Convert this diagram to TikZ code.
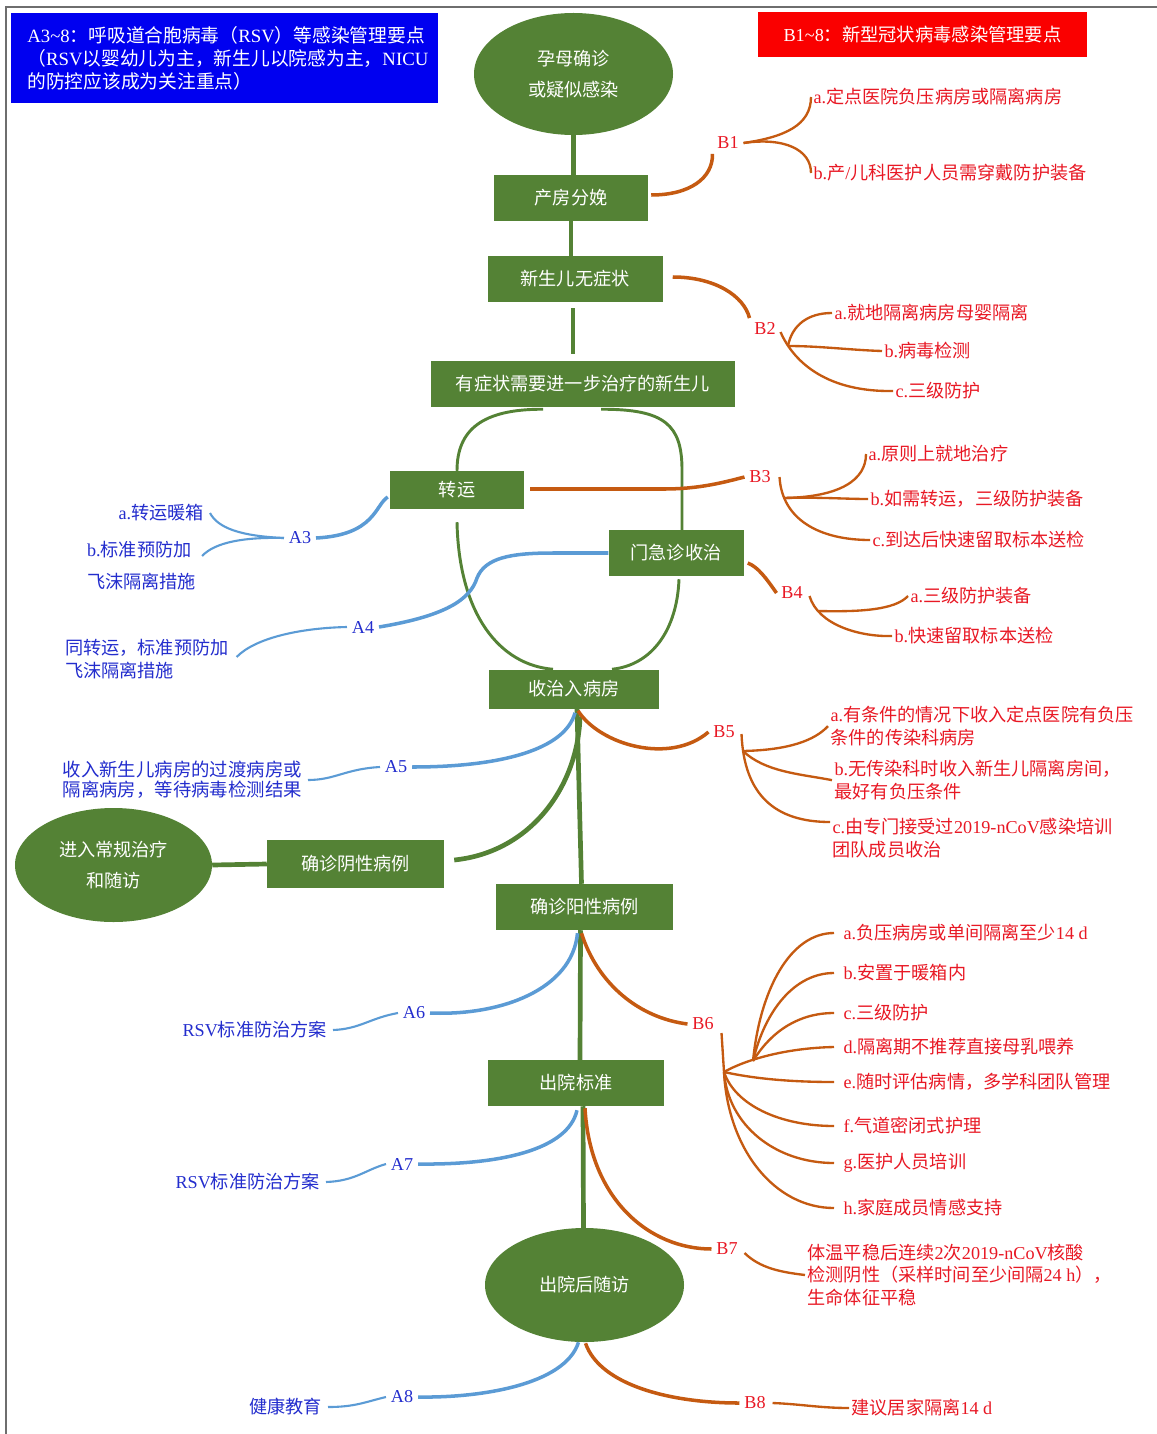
\documentclass[tikz,border=0pt]{standalone}
\usepackage{fontspec}
\setmainfont{Liberation Serif}
\newfontfamily\cjk{Noto Sans CJK SC}
\usepackage{tikz}
\usetikzlibrary{calc, shapes.geometric}
\tikzset{>=latex}
\definecolor{mygreen}{RGB}{84, 130, 53}
\definecolor{myorange}{RGB}{197, 90, 17}
\definecolor{mylightblue}{RGB}{91, 155, 213}
\definecolor{myred}{RGB}{232, 24, 36}
\definecolor{myblue}{RGB}{35, 45, 205}
\definecolor{headblue}{RGB}{0, 0, 240}
\definecolor{headred}{RGB}{250, 0, 0}
\definecolor{framegray}{RGB}{110, 110, 110}
\tikzset{
  headbox/.style = {rectangle, text = white, align = left, inner sep = 0pt, font = \fontsize{16}{19.6}\selectfont},
  gbox/.style = {rectangle, fill = mygreen, text = white, minimum width = #1, minimum height = 1.38cm, inner sep = 0pt, font = \cjk\fontsize{15.5}{19}\selectfont},
  gell/.style = {ellipse, fill = mygreen, text = white, minimum width = 5.97cm, minimum height = 3.66cm, inner sep = 0pt, align = center, font = \cjk\fontsize{15.5}{26.5}\selectfont},
  trunk/.style = {mygreen, line width = 4pt},
  loopline/.style = {mygreen, line width = 2.5pt},
  bmain/.style = {myorange, line width = 3pt},
  bbranch/.style = {myorange, line width = 2pt},
  amain/.style = {mylightblue, line width = 3pt},
  abranch/.style = {mylightblue, line width = 1.8pt},
  blabel/.style = {text = myred, inner sep = 4pt, font = \fontsize{15.5}{18}\selectfont},
  alabel/.style = {text = myblue, inner sep = 4pt, font = \fontsize{15.5}{18}\selectfont},
  btext/.style = {text = myred, anchor = west, align = left, inner sep = 2pt, font = \fontsize{15.5}{19}\selectfont},
  bsixtext/.style = {btext, inner xsep = 8pt},
  atext/.style = {text = myblue, align = left, inner ysep = 2pt, inner xsep = 5pt, font = \fontsize{15.5}{19}\selectfont},
}
\begin{document}
\begin{tikzpicture}[x = 0.03cm, y = -0.03cm]
\useasboundingbox (0,0) rectangle (1157,1434);
\draw[framegray, line width = 1.2pt] (6,1434) -- (6,7) -- (1157,7);

\node[headbox, fill = headblue, minimum width = 12.81cm, minimum height = 2.7cm] (rsvhead) at (224.5,58) {\hspace*{0.2cm}A3\textasciitilde8{\cjk ：呼吸道合胞病毒（}RSV{\cjk ）等感染管理要点}\\\hspace*{0.2cm}{\cjk （}RSV{\cjk 以婴幼儿为主，新生儿以院感为主，}NICU\\\hspace*{0.2cm}{\cjk 的防控应该成为关注重点）}};
\node[headbox, fill = headred, font = \fontsize{15.6}{18}\selectfont, minimum width = 9.87cm, minimum height = 1.35cm] (covhead) at (922.5,34.5) {B1\textasciitilde8{\cjk ：新型冠状病毒感染管理要点}};

\node[gell] (mom) at (573.5,74) {孕母确诊\\或疑似感染};
\node[gbox = 4.62cm] (deliv) at (571,198) {产房分娩};
\node[gbox = 5.25cm] (asym) at (575,279) {新生儿无症状};
\node[gbox = 9.12cm] (sym) at (583,384) {有症状需要进一步治疗的新生儿};
\node[gbox = 4.02cm, minimum height = 1.14cm] (trans) at (457,490) {转运};
\node[gbox = 4.05cm] (er) at (676,553) {门急诊收治};
\node[gbox = 5.1cm, minimum height = 1.17cm] (ward) at (574,689) {收治入病房};
\node[gell, minimum width = 5.91cm, minimum height = 3.42cm] (routine) at (113.5,865) {进入常规治疗\\和随访};
\node[gbox = 5.31cm, minimum height = 1.44cm] (neg) at (355.5,864) {确诊阴性病例};
\node[gbox = 5.31cm] (pos) at (584.5,907) {确诊阳性病例};
\node[gbox = 5.28cm] (disch) at (576,1083) {出院标准};
\node[gell, minimum height = 3.42cm] (follow) at (584.5,1285) {出院后随访};

\draw[trunk] (mom.south) -- (mom.south |- deliv.north);
\draw[trunk] (deliv.south) -- (deliv.south |- asym.north);
\draw[trunk, shorten < = 5pt, shorten > = 6pt] ($(asym.south)+(-2,0)$) -- ($(asym.south |- sym.north)+(-2,0)$);
\draw[trunk] ($(ward.south)+(3,0)$) -- ($(pos.north)+(-3,0)$);
\draw[trunk] ($(pos.south)+(-4,0)$) -- ($(disch.north)+(4,0)$);
\draw[trunk] ($(disch.south)+(7,0)$) -- ($(follow.north)+(-1,0)$);
\draw[trunk] (routine.east) -- (neg.west);
\draw[trunk] ($(ward.south)+(6,8)$) .. controls (578,785) and (532,852) .. ($(neg.east)+(10,-4)$);

\draw[loopline] ($(sym.south)+(-40,2)$) .. controls (482,409) and (457,430) .. (trans.north);
\draw[loopline] ($(sym.south)+(18,2)$) .. controls (665,409) and (682,425) .. (682,470) -- ($(er.north)+(6,0)$);
\draw[loopline] ($(trans.south)+(0,13)$) .. controls (459,615) and (500,665) .. ($(ward.north)+(-21,0)$);
\draw[loopline] ($(er.south)+(3,3)$) .. controls (677,630) and (652,665) .. ($(ward.north)+(38,0)$);

\node[blabel] (b1) at (728,143) {B1};
\node[blabel] (b2) at (765,329) {B2};
\node[blabel] (b3) at (760,477) {B3};
\node[blabel] (b4) at (792,593) {B4};
\node[blabel] (b5) at (724,732) {B5};
\node[blabel] (b6) at (703,1024) {B6};
\node[blabel] (b7) at (727,1249) {B7};
\node[blabel] (b8) at (755,1403) {B8};

\node[btext] (b1a) at (811,97) {a.{\cjk 定点医院负压病房或隔离病房}};
\node[btext] (b1b) at (811,173) {b.{\cjk 产}/{\cjk 儿科医护人员需穿戴防护装备}};
\node[btext] (b2a) at (832,313) {a.{\cjk 就地隔离病房母婴隔离}};
\node[btext] (b2b) at (882,351) {b.{\cjk 病毒检测}};
\node[btext] (b2c) at (893,391) {c.{\cjk 三级防护}};
\node[btext] (b3a) at (866,454) {a.{\cjk 原则上就地治疗}};
\node[btext] (b3b) at (868,499) {b.{\cjk 如需转运，三级防护装备}};
\node[btext] (b3c) at (870,540) {c.{\cjk 到达后快速留取标本送检}};
\node[btext] (b4a) at (908,596) {a.{\cjk 三级防护装备}};
\node[btext] (b4b) at (892,636) {b.{\cjk 快速留取标本送检}};
\node[btext, anchor = north west] (b5a) at (828,704) {a.{\cjk 有条件的情况下收入定点医院有负压}\\{\cjk 条件的传染科病房}};
\node[btext, anchor = north west] (b5b) at (832,758) {b.{\cjk 无传染科时收入新生儿隔离房间，}\\{\cjk 最好有负压条件}};
\node[btext, anchor = north west] (b5c) at (830,816) {c.{\cjk 由专门接受过}2019-nCoV{\cjk 感染培训}\\{\cjk 团队成员收治}};
\node[bsixtext] (b6a) at (834,933) {a.{\cjk 负压病房或单间隔离至少}14 d};
\node[bsixtext] (b6b) at (834,973) {b.{\cjk 安置于暖箱内}};
\node[bsixtext] (b6c) at (834,1013) {c.{\cjk 三级防护}};
\node[bsixtext] (b6d) at (834,1047) {d.{\cjk 隔离期不推荐直接母乳喂养}};
\node[bsixtext] (b6e) at (834,1082) {e.{\cjk 随时评估病情，多学科团队管理}};
\node[bsixtext] (b6f) at (834,1126) {f.{\cjk 气道密闭式护理}};
\node[bsixtext] (b6g) at (834,1163) {g.{\cjk 医护人员培训}};
\node[bsixtext] (b6h) at (834,1208) {h.{\cjk 家庭成员情感支持}};
\node[btext] (b7t) at (805,1275) {{\cjk 体温平稳后连续}2{\cjk 次}2019-nCoV{\cjk 核酸}\\{\cjk 检测阴性（采样时间至少间隔}24 h{\cjk ），}\\{\cjk 生命体征平稳}};
\node[btext] (b8t) at (849,1408) {{\cjk 建议居家隔离}14 d};

\draw[bmain] ($(deliv.east)+(3,-3)$) .. controls (690,195) and (713,178) .. (b1.south west);
\draw[bbranch] (b1.east) .. controls (785,137) and (811,125) .. (b1a.west);
\draw[bbranch] (b1.east) .. controls (785,137) and (811,150) .. (b1b.west);

\draw[bmain] ($(asym.east)+(10,-2)$) .. controls (715,277) and (744,296) .. (b2.north west);
\coordinate (b2f) at (788,346);
\draw[bbranch] ($(b2.east)+(0,3)$) .. controls (795,365) and (830,392) .. (b2c.west);
\draw[bbranch] (b2f) .. controls (792,325) and (808,313) .. (b2a.west);
\draw[bbranch] (b2f) .. controls (820,346) and (850,350) .. (b2b.west);

\draw[bmain] ($(trans.east)+(6,-1)$) -- (664,489) .. controls (700,489) and (725,482) .. (b3.west);
\coordinate (b3f) at (784,498);
\draw[bbranch] ($(b3.east)+(4,0)$) .. controls (782,520) and (820,540) .. (b3c.west);
\draw[bbranch] (b3f) .. controls (840,497) and (866,480) .. (b3a.west);
\draw[bbranch] (b3f) .. controls (820,497) and (845,499) .. (b3b.west);

\draw[bmain] ($(er.east)+(4,10)$) .. controls (758,567) and (766,578) .. (b4.west);
\coordinate (b4f) at (818,611);
\draw[bbranch] ($(b4.east)+(2,3)$) .. controls (818,625) and (860,637) .. (b4b.west);
\draw[bbranch] (b4f) .. controls (860,612) and (895,610) .. (b4a.west);

\draw[bmain] ($(ward.south)+(4,2)$) .. controls (600,745) and (670,765) .. (b5.west);
\coordinate (b5f) at (743,751);
\draw[bbranch] ($(b5.east)+(2,2)$) .. controls (744,795) and (775,822) .. ($(b5c.north west)+(0,6)$);
\draw[bbranch] (b5f) .. controls (790,750) and (815,740) .. (b5a.west);
\draw[bbranch] (b5f) .. controls (765,772) and (800,774) .. (b5b.west);

\draw[bmain] ($(pos.south)+(-3,3)$) .. controls (598,985) and (640,1018) .. (b6.west);
\coordinate (b6x) at (724,1072);
\coordinate (b6y) at (753,1061);
\draw[bbranch] ($(b6.east)+(3,9)$) -- (b6x);
\draw[bbranch] (b6x) .. controls (745,1060) and (785,1048) .. (b6d.west);
\draw[bbranch] (b6y) .. controls (760,990) and (790,933) .. (b6a.west);
\draw[bbranch] (b6y) .. controls (765,1010) and (795,973) .. (b6b.west);
\draw[bbranch] (b6y) .. controls (772,1030) and (800,1013) .. (b6c.west);
\draw[bbranch] (b6x) .. controls (760,1080) and (800,1082) .. (b6e.west);
\draw[bbranch] (b6x) .. controls (735,1105) and (780,1126) .. (b6f.west);
\draw[bbranch] (b6x) .. controls (728,1125) and (775,1163) .. (b6g.west);
\draw[bbranch] (b6x) .. controls (728,1150) and (775,1208) .. (b6h.west);

\draw[bmain] ($(disch.south)+(9,2)$) .. controls (590,1200) and (650,1249) .. (b7.west);
\draw[bbranch] ($(b7.east)+(2,4)$) .. controls (760,1268) and (780,1272) .. (b7t.west);

\draw[bmain] ($(follow.south)+(1,1)$) .. controls (600,1385) and (670,1403) .. (b8.west);
\draw[bbranch] ($(b8.east)+(2,0)$) .. controls (800,1404) and (820,1408) .. (b8t.west);

\node[alabel] (a3) at (300,538) {A3};
\node[alabel] (a4) at (363,627) {A4};
\node[alabel] (a5) at (396,767) {A5};
\node[alabel] (a6) at (414,1013) {A6};
\node[alabel] (a7) at (402,1164) {A7};
\node[alabel] (a8) at (402,1397) {A8};

\node[atext, anchor = east] (a3a) at (210,513) {a.{\cjk 转运暖箱}};
\node[atext, anchor = north west, font = \fontsize{15.5}{27}\selectfont] (a3b) at (81,539) {b.{\cjk 标准预防加}\\{\cjk 飞沫隔离措施}};
\node[atext, anchor = north west, font = \fontsize{15.5}{19.6}\selectfont] (a4t) at (59,637) {{\cjk 同转运，标准预防加}\\{\cjk 飞沫隔离措施}};
\node[atext, anchor = east, font = \fontsize{15.7}{17}\selectfont] (a5t) at (308,780) {{\cjk 收入新生儿病房的过渡病房或}\\{\cjk 隔离病房，等待病毒检测结果}};
\node[atext, anchor = east] (a6t) at (333,1030) {RSV{\cjk 标准防治方案}};
\node[atext, anchor = east] (a7t) at (326,1182) {RSV{\cjk 标准防治方案}};
\node[atext, anchor = east] (a8t) at (328,1407) {{\cjk 健康教育}};

\draw[amain] ($(trans.west)+(-2,7)$) .. controls (375,505) and (375,535) .. (a3.east);
\draw[abranch] (a3.west) .. controls (240,536) and (218,528) .. (a3a.east);
\draw[abranch] (a3.west) .. controls (245,537) and (215,542) .. ($(a3b.north east)+(0,17)$);

\draw[amain] (er.west) -- (553,553) .. controls (510,553) and (485,558) .. (477,578) .. controls (470,600) and (445,616) .. (a4.east);
\draw[abranch] (a4.west) .. controls (300,628) and (255,638) .. ($(a4t.north east)+(2,20)$);

\draw[amain] ($(ward.south)+(1,4)$) .. controls (565,750) and (500,767) .. (a5.east);
\draw[abranch] (a5.west) .. controls (345,769) and (335,780) .. (a5t.east);

\draw[amain] ($(pos.south)+(-7,3)$) .. controls (572,990) and (500,1016) .. (a6.east);
\draw[abranch] (a6.west) .. controls (370,1018) and (360,1029) .. (a6t.east);

\draw[amain] ($(disch.south)+(1,4)$) .. controls (568,1150) and (500,1165) .. (a7.east);
\draw[abranch] (a7.west) .. controls (365,1170) and (355,1181) .. (a7t.east);

\draw[amain] ($(follow.south)+(-6,0)$) .. controls (565,1385) and (480,1398) .. (a8.east);
\draw[abranch] (a8.west) .. controls (365,1402) and (355,1407) .. (a8t.east);
\end{tikzpicture}
\end{document}
